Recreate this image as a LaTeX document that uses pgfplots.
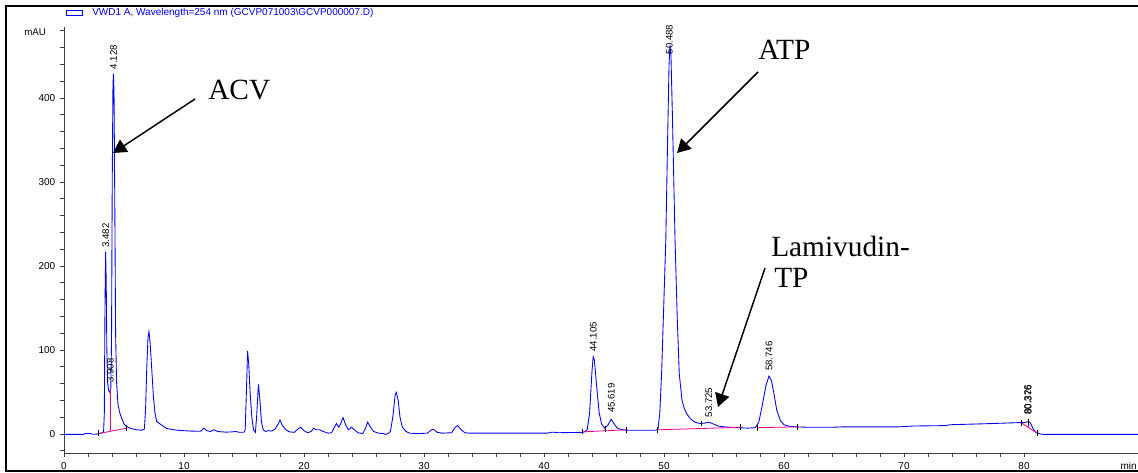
\documentclass[border=0pt]{standalone}
\usepackage{fontspec}
\setmainfont{Liberation Sans}
\newfontfamily\tnr{Liberation Serif}
\usepackage{pgfplots}
\pgfplotsset{compat=1.18}
\usetikzlibrary{arrows.meta}
\begin{document}
\begin{tikzpicture}
\path[use as bounding box] (0,0) rectangle (853.5pt,354.75pt);
\clip (0,0) rectangle (853.5pt,354.75pt);
\begin{axis}[
  at={(48pt,14.76pt)}, anchor=south west,
  x=9pt, y=0.63pt,
  xmin=0, xmax=90, ymin=-23, ymax=484,
  axis x line*=bottom, axis y line*=left,
  axis line style={-, line width=0.6pt, black!75},
  tick align=outside,
  xtick={0,10,...,80}, minor x tick num=4,
  ytick={0,100,...,400}, minor ytick={-20,20,40,60,80,120,140,160,180,220,240,260,280,320,340,360,380,420,440,460,480},
  major tick length=3pt, minor tick length=3pt,
  every tick/.style={black!75, line width=0.5pt},
  tick label style={font=\fontsize{7.5}{9}\selectfont},
  /pgf/number format/assume math mode=true,
  clip=false,
]
\addplot[blue, line width=0.65pt] coordinates {
(0,-0.5)(1.6,-0.5)(1.8,0.6)(2.2,0.6)(2.35,-0.3)(2.7,-0.2)(2.9,0.5)(3.2,1.5)(3.3,3)
(3.36,25)(3.42,160)(3.47,217)(3.52,180)(3.57,100)(3.63,62)(3.72,52)(3.80,50)(3.90,53)
(3.96,110)(4.02,300)(4.08,415)(4.12,429)(4.17,405)(4.23,280)(4.30,120)(4.38,62)(4.5,35)
(4.65,25)(4.8,19)(5.0,12)(5.2,9)(5.5,7)(6.0,5)(6.5,4.5)(6.7,6)(6.8,30)(6.9,80)(7.0,115)
(7.08,122)(7.18,108)(7.3,80)(7.45,45)(7.58,25)(7.72,15)(8.0,12)(8.3,9)(8.55,6.5)(9.4,4.5)
(10.5,3.5)(11.4,3.2)(11.65,7)(11.9,4)(12.2,3)(12.5,5)(12.8,3)(13.5,2.2)(14.0,2.5)(14.3,3)
(14.6,2)(15.0,2)(15.1,5)(15.2,50)(15.3,99)(15.4,82)(15.5,52)(15.65,20)(15.8,5)(15.95,2)
(16.05,20)(16.2,59)(16.3,45)(16.45,15)(16.6,5)(16.8,3)(17.0,4)(17.3,3.5)(17.6,6)(17.85,12)
(18.0,16.5)(18.2,10)(18.5,5)(18.8,2.5)(19.2,2)(19.5,6)(19.7,8)(20.0,4)(20.3,1.5)(20.6,3)
(20.8,7)(21.0,5)(21.3,5)(21.6,3)(22.0,1)(22.3,1.5)(22.5,7)(22.7,12.5)(22.9,8)(23.05,12)
(23.25,19.5)(23.5,10)(23.7,5)(23.95,8)(24.2,5)(24.5,1.5)(24.9,0.5)(25.1,6)(25.3,14)(25.5,9)
(25.8,3)(26.2,1)(26.6,0.5)(26.8,-0.5)(27.0,0.5)(27.2,3)(27.4,20)(27.6,47)(27.7,49.5)
(27.85,40)(28.0,20)(28.2,8)(28.5,3)(28.8,1)(29.5,0.5)(30.3,1)(30.6,5)(30.8,5.5)(31.1,2)
(31.5,1)(32.3,1.5)(32.6,8)(32.8,10)(33.1,5)(33.4,1.5)(33.8,1)(40.3,1)(40.6,2)(40.9,2)
(41.2,1.5)(43.3,2)(43.6,5)(43.8,25)(44.0,75)(44.1,92)(44.2,88)(44.4,55)(44.6,25)(44.8,12)
(45.05,7)(45.3,10)(45.6,17.5)(45.8,13)(46.1,7)(46.5,5)(47.0,4.5)(49.3,4.5)(49.5,6)
(49.65,25)(49.8,72)(49.95,140)(50.15,231)(50.3,350)(50.42,440)(50.5,463)(50.58,450)
(50.7,380)(50.92,231)(51.1,140)(51.27,72)(51.5,40)(51.7,30)(51.9,24)(52.2,18)(52.6,14)
(53.0,12.5)(53.4,13)(53.75,14)(54.1,12)(54.5,9.5)(55.0,8.5)(56.0,7.5)(57.0,7)(57.6,7.5)
(57.9,14)(58.2,35)(58.5,58)(58.75,69)(58.95,64)(59.2,45)(59.4,28)(59.7,16)(60.0,11)
(60.5,9)(61.0,8.5)(62,8)(64,8)(65,8.5)(69.5,8.5)(70.8,9.5)(73.5,10)(73.8,11)(77,12.3)
(79.5,13.5)(80.0,13.5)(80.3,14.5)(80.5,14)(80.7,8)(80.9,3)(81.2,0.5)(81.6,-0.5)(90,-0.5)
};
% integration baselines
\addplot[magenta, line width=0.6pt] coordinates {(2.9,0.5)(5.22,7)};
\addplot[magenta, line width=1.3pt] coordinates {(3.87,3.3)(3.87,53)};
\addplot[magenta, line width=0.6pt] coordinates {(43.2,2.5)(46.85,5)};
\addplot[magenta, line width=0.6pt] coordinates {(49.45,5)(56.5,8)};
\addplot[magenta, line width=0.6pt] coordinates {(57.75,7.5)(61.2,8.5)};
\addplot[magenta, line width=0.6pt] coordinates {(79.75,13.5)(81.1,1)};
\addplot[magenta, line width=0.6pt] coordinates {(80.33,8.5)(80.33,14.5)};
% event marks
\addplot[only marks, mark=|, mark size=2.2pt, black, mark options={line width=0.5pt}] coordinates {
(2.9,1)(5.22,7)(43.2,3)(45.1,6)(46.85,5)(49.45,5)(53.1,12.5)(56.4,8)(57.75,7.5)(61.1,8.5)(79.75,13.5)(81.1,1.5)(80.33,14.5)
};
% peak labels
\tikzset{pl/.style={rotate=90, anchor=west, inner sep=0.5pt, font=\fontsize{7.2}{8}\selectfont}}
\node[pl] at (axis cs:3.482,221) {3.482};
\node[pl] at (axis cs:4.128,433) {4.128};
\node[pl] at (axis cs:3.85,60) {3.908};
\node[pl] at (axis cs:44.105,97) {44.105};
\node[pl] at (axis cs:45.619,24) {45.619};
\node[pl] at (axis cs:50.45,451) {50.488};
\node[pl] at (axis cs:53.725,19) {53.725};
\node[pl] at (axis cs:58.746,74) {58.746};
\node[pl] at (axis cs:80.30,22) {80.326};
\node[pl] at (axis cs:80.36,22) {80.376};
\end{axis}
\begin{scope}[x=0.75pt,y=-0.75pt,yshift=354.75pt]
\draw[black, line width=0.9pt] (6,6) rectangle (1160,471);
\draw[blue, line width=0.6pt] (66,10) rectangle (82,15.7);
\node[anchor=west, inner sep=0pt, text=blue, font=\fontsize{7.5}{9}\selectfont] at (92,12.7) {VWD1 A, Wavelength=254 nm (GCVP071003\textbackslash GCVP000007.D)};
\node[anchor=west, inner sep=0pt, font=\fontsize{7.3}{9}\selectfont] at (24,32) {mAU};
\node[anchor=east, inner sep=0pt, font=\fontsize{7.5}{9}\selectfont] at (1137,466) {min};
\node[anchor=base west, inner sep=0pt, font=\tnr\fontsize{22}{23}\selectfont] at (208,100) {ACV};
\node[anchor=base west, inner sep=0pt, font=\tnr\fontsize{22}{23}\selectfont] at (758,60) {ATP};
\node[anchor=base west, inner sep=0pt, font=\tnr\fontsize{22}{23}\selectfont] at (771,256.7) {Lamivudin-};
\node[anchor=base west, inner sep=0pt, font=\tnr\fontsize{22}{23}\selectfont] at (774,287.3) {TP};
\draw[line width=1.1pt, -{Triangle[length=10pt,width=11pt]}] (195,99) -- (113,153);
\draw[line width=1.1pt, -{Triangle[length=10pt,width=11pt]}] (758,72) -- (677,153);
\draw[line width=1.1pt, -{Triangle[length=10pt,width=11pt]}] (765,268) -- (718,407);
\end{scope}
\end{tikzpicture}
\end{document}
